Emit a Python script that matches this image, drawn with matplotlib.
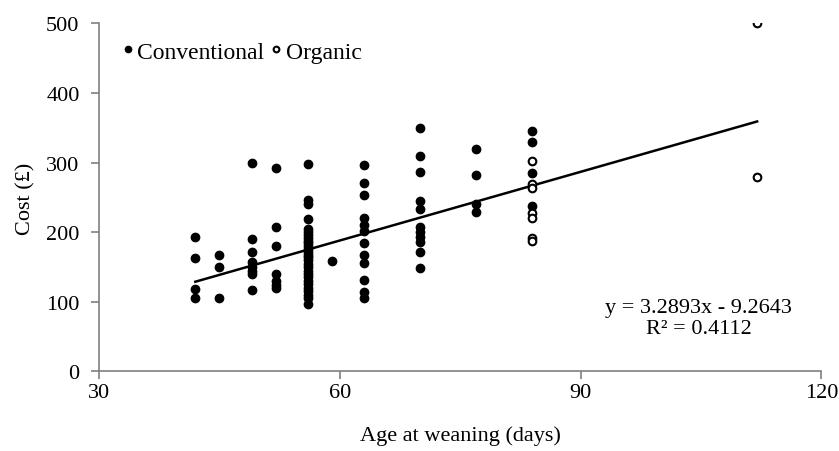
import matplotlib
matplotlib.use('Agg')
import matplotlib.pyplot as plt
import numpy as np

plt.rcParams['font.family'] = ['Liberation Serif', 'DejaVu Serif']

# conventional farms, age at weaning (days) -> cost (pounds)
conv_age = ([42]*4 + [45]*3 + [49]*8 + [52]*7 + [56]*28 + [59] +
            [63]*12 + [70]*11 + [77]*4 + [84]*4)
conv_cost = [193, 163, 119, 105,
             168, 150, 105,
             300, 190, 171, 157, 150, 145, 140, 117,
             292, 207, 180, 140, 130, 124, 120,
             298, 247, 240, 219, 205, 200, 196, 192, 188, 184, 180, 176, 172,
             168, 164, 160, 155, 150, 145, 140, 135, 130, 125, 120, 115, 110,
             105, 97,
             159,
             296, 271, 254, 221, 210, 202, 184, 168, 156, 131, 114, 106,
             350, 309, 286, 245, 233, 207, 200, 193, 186, 171, 149,
             319, 282, 240, 229,
             346, 330, 285, 238]

# organic farms
org_age = [84]*7 + [112]*2
org_cost = [302, 270, 263, 228, 221, 191, 187, 500, 280]

# trend line reported on the chart
slope = 3.2893
intercept = -9.2643
r2 = 0.4112

fig = plt.figure(figsize=(8.39, 4.52), dpi=100)
ax = fig.add_axes([0.118, 0.176, 0.861, 0.770])

ax.plot(conv_age, conv_cost, 'o', color='black', markersize=6,
        label='Conventional', zorder=3)
ax.plot(org_age, org_cost, 'o', markerfacecolor='white', markeredgecolor='black',
        markeredgewidth=1.5, markersize=5.5, label='Organic', zorder=3)

all_age = np.array(conv_age + org_age)
xl = np.array([all_age.min(), all_age.max()])
ax.plot(xl, slope*xl + intercept, color='black', linewidth=1.8, zorder=2)

ax.set_xlim(30, 120)
ax.set_ylim(0, 500)
ax.set_xticks([30, 60, 90, 120])
ax.set_yticks([0, 100, 200, 300, 400, 500])

for s in ['top', 'right']:
    ax.spines[s].set_visible(False)
for s in ['left', 'bottom']:
    ax.spines[s].set_color('#808080')
    ax.spines[s].set_linewidth(1.2)
ax.tick_params(colors='#808080', labelcolor='black', labelsize=16,
               length=6, width=1.2, direction='out')
ax.tick_params(axis='x', pad=2)
ax.tick_params(axis='y', pad=8)

ax.set_xlabel('Age at weaning (days)', fontsize=16)
ax.xaxis.set_label_coords(0.5, -0.155)
ax.set_ylabel('Cost (£)', fontsize=16)
ax.yaxis.set_label_coords(-0.088, 0.5)

ax.legend(loc='center left', bbox_to_anchor=(0.03, 0.918), ncol=2, frameon=False,
          fontsize=17, handletextpad=0.1, columnspacing=0.2, handlelength=0.6,
          markerscale=0.75, borderaxespad=0, borderpad=0)

ax.text(0.83, 0.185, 'y = 3.2893x - 9.2643', transform=ax.transAxes,
        ha='center', va='center', fontsize=16)
ax.text(0.83, 0.122, 'R² = 0.4112', transform=ax.transAxes,
        ha='center', va='center', fontsize=16)

fig.savefig('out.png', dpi=100)
